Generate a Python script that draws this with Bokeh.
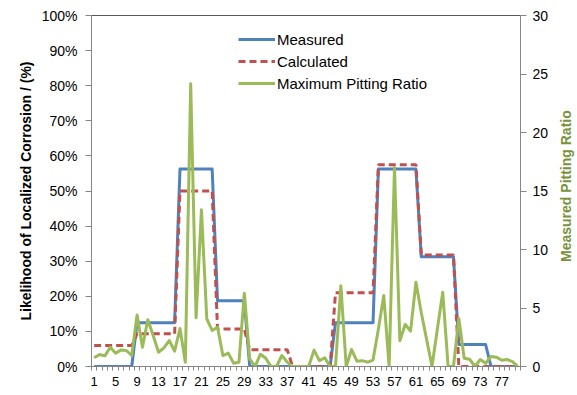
import math
from bokeh.plotting import figure
from bokeh.layouts import row
from bokeh.models import (Range1d, LinearAxis, FixedTicker, PrintfTickFormatter,
                          Legend, LegendItem, ColumnDataSource, Label)
from bokeh.embed import file_html
from bokeh.resources import INLINE

# ---- data ----
sample = list(range(1, 81))
measured = ([0] * 8 + [12.5] * 8 + [56.25] * 7 + [18.75] * 6 + [0] * 16 +
            [12.5] * 8 + [56.25] * 8 + [31.25] * 7 + [6.25] * 6 + [0] * 6)
calculated = ([6.0] * 8 + [9.3] * 8 + [50.0] * 7 + [10.7] * 6 + [4.8] * 8 +
              [0] * 8 + [21.0] * 8 + [57.5] * 8 + [31.8] * 7 + [0] * 12)
pitting_ratio = [0.74, 1.03, 0.91, 1.65, 1.14, 1.42, 1.37, 0.94, 4.4, 1.65,
                 3.99, 2.65, 1.22, 1.6, 2.22, 1.31, 3.25, 0.37, 24.16, 4.16,
                 13.39, 4.07, 3.08, 3.36, 0.94, 1.14, 0.28, 0.37, 6.27, 0.66,
                 0.0, 1.05, 0.7, 0.0, 0.0, 0.94, 0.37, 0.0, 0.0, 0.0,
                 0.0, 1.4, 0.5, 0.74, 0.0, 0.0, 6.9, 0.0, 1.45, 0.45,
                 0.5, 0.37, 0.55, 3.2, 6.07, 0.0, 17.0, 2.2, 3.59, 3.02,
                 7.2, 4.6, 2.3, 0.0, 3.2, 6.35, 0.0, 0.0, 4.1, 0.7,
                 0.62, 0.0, 0.6, 0.28, 0.85, 0.8, 0.53, 0.6, 0.42, 0.0]
x_tick_labels = list(range(1, 81, 4))
left_ticks = list(range(0, 101, 10))
right_ticks = list(range(0, 31, 5))

FONT = "Liberation Sans"
BLUE = "#4F81BD"
RED = "#C0504D"
GREEN = "#9BBB59"
GREEN_TEXT = "#77933C"
AXIS = "#868686"

src = ColumnDataSource(dict(x=sample, m=measured, c=calculated, r=pitting_ratio))

p = figure(width=557, height=395, output_backend="svg", toolbar_location=None,
           x_range=Range1d(0.5, 80.5), y_range=Range1d(0, 100),
           min_border_left=91, min_border_right=37, min_border_top=15,
           min_border_bottom=29)
p.extra_y_ranges = {"pr": Range1d(0, 30)}
p.grid.visible = False
p.outline_line_color = "#595959"
p.outline_line_width = 1
p.background_fill_color = "white"
p.border_fill_color = "white"

r_m = p.line("x", "m", source=src, line_color=BLUE, line_width=3, line_join="round")
r_c = p.line("x", "c", source=src, line_color=RED, line_width=3, line_dash="7 4")
r_r = p.line("x", "r", source=src, y_range_name="pr", line_color=GREEN,
             line_width=3, line_join="round")

# x axis
xa = p.xaxis[0]
xa.ticker = FixedTicker(ticks=x_tick_labels, minor_ticks=[i + 0.5 for i in range(0, 81)])
xa.major_tick_out = 0
xa.major_tick_in = 0
xa.minor_tick_out = 4
xa.minor_tick_in = 0
xa.minor_tick_line_color = AXIS
xa.axis_line_color = AXIS
xa.major_label_text_font = FONT
xa.major_label_text_font_size = "13px"
xa.major_label_text_color = "black"
xa.major_label_standoff = 6

# left axis
ya = p.yaxis[0]
ya.ticker = FixedTicker(ticks=left_ticks, minor_ticks=[])
ya.formatter = PrintfTickFormatter(format="%d%%")
ya.major_tick_out = 6
ya.major_tick_in = 0
ya.minor_tick_out = 0
ya.minor_tick_in = 0
ya.axis_line_color = AXIS
ya.major_tick_line_color = AXIS
ya.major_label_text_font = FONT
ya.major_label_text_font_size = "14px"
ya.major_label_text_color = "black"
ya.major_label_standoff = 8
ya.axis_label = "Likelihood of Localized Corrosion / (%)"
ya.axis_label_text_font = FONT
ya.axis_label_text_font_style = "bold"
ya.axis_label_text_font_size = "14px"
ya.axis_label_text_color = "black"
ya.axis_label_standoff = 5

# right axis (ticks and tick labels)
ra = LinearAxis(y_range_name="pr", ticker=FixedTicker(ticks=right_ticks, minor_ticks=[]))
ra.major_tick_out = 6
ra.major_tick_in = 0
ra.minor_tick_out = 0
ra.minor_tick_in = 0
ra.axis_line_color = AXIS
ra.major_tick_line_color = AXIS
ra.major_label_text_font = FONT
ra.major_label_text_font_size = "14px"
ra.major_label_text_color = "black"
ra.major_label_standoff = 6
p.add_layout(ra, "right")

legend = Legend(items=[LegendItem(label="Measured", renderers=[r_m]),
                       LegendItem(label="Calculated", renderers=[r_c]),
                       LegendItem(label="Maximum Pitting Ratio", renderers=[r_r])],
                location=(147, 273))
legend.glyph_width = 37
legend.glyph_height = 20
legend.label_height = 20
legend.label_standoff = 2
legend.spacing = 2
legend.padding = 0
legend.margin = 0
legend.label_text_font = FONT
legend.label_text_font_size = "15px"
legend.label_text_color = "black"
legend.background_fill_alpha = 0
legend.border_line_alpha = 0
p.add_layout(legend)

# narrow strip holding the right-axis title, reading bottom-to-top
t = figure(width=20, height=395, output_backend="svg", toolbar_location=None,
           x_range=Range1d(0, 20), y_range=Range1d(0, 395),
           min_border_left=0, min_border_right=0, min_border_top=0,
           min_border_bottom=0)
t.axis.visible = False
t.grid.visible = False
t.outline_line_color = None
t.background_fill_color = "white"
t.border_fill_color = "white"
t.add_layout(Label(x=8.5, y=203, text="Measured Pitting Ratio", angle=math.pi / 2,
                   text_align="center", text_baseline="middle",
                   text_font=FONT, text_font_style="bold", text_font_size="14px",
                   text_color=GREEN_TEXT))

layout = row(p, t, spacing=0)
open("out.html", "w").write(file_html(layout, INLINE))
